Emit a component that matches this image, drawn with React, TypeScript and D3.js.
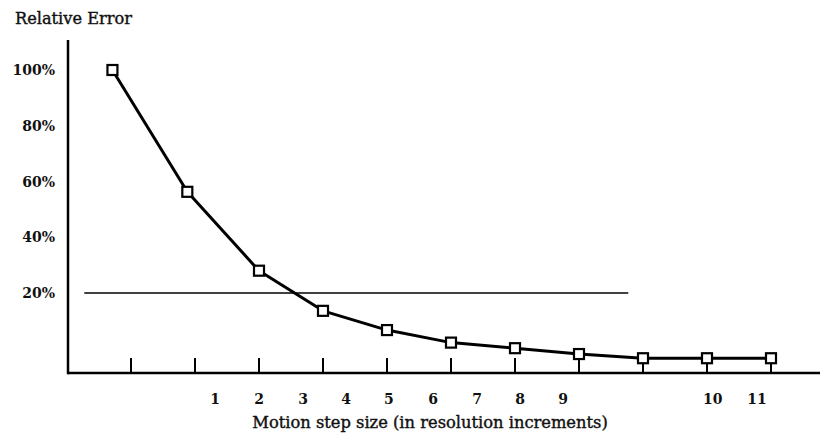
import React from "react";
import * as d3 from "d3";

// x positions are in "tick index" units along the axis (ticks at 0..10)
const pointPositions = [-0.29, 0.88, 2, 3, 4, 5, 6, 7, 8, 9, 10];
const relativeError = [100, 56.3, 28.0, 13.6, 6.7, 2.2, 0.2, -1.9, -3.4, -3.4, -3.4];
const tickPositions = [0, 1, 2, 3, 4, 5, 6, 7, 8, 9, 10];
const xLabels = ["1", "2", "3", "4", "5", "6", "7", "8", "9", "10", "11"];
const xLabelPositions = [1.3125, 2, 2.6875, 3.36, 4.03, 4.72, 5.41, 6.08, 6.75, 9.09, 9.78];
const yTicks = [100, 80, 60, 40, 20];
const referenceLevel = 20;
const referenceSpan = [-0.73, 7.77];

const W = 820;
const H = 439;
const FONT = "'DejaVu Serif', serif";

export default function App() {
  const x = d3.scaleLinear().domain([0, 10]).range([131, 771]);
  const y = d3.scaleLinear().domain([-8.7, 110.76]).range([373, 40]);

  const line = d3
    .line<number>()
    .x((_, i) => x(pointPositions[i]))
    .y((d) => y(d));

  const axisLeft = 68;
  const axisBottom = y(-8.7);

  return (
    <svg
      width={W}
      height={H}
      style={{ position: "absolute", left: 0, top: 0, background: "#fff" }}
    >
      <text x={15} y={24} fontFamily={FONT} fontSize={16.2} fill="#111" stroke="#111" strokeWidth={0.4}>
        Relative Error
      </text>

      {/* y axis */}
      <line x1={axisLeft} x2={axisLeft} y1={40} y2={axisBottom + 1.2} stroke="#000" strokeWidth={2.5} />
      {/* x axis */}
      <line x1={axisLeft} x2={820} y1={axisBottom} y2={axisBottom} stroke="#000" strokeWidth={2.5} />

      {yTicks.map((t) => (
        <text
          key={t}
          x={55}
          y={y(t)}
          dy="0.36em"
          textAnchor="end"
          fontFamily={FONT}
          fontWeight="bold"
          fontSize={14}
          fill="#111"
        >
          {t}%
        </text>
      ))}

      {tickPositions.map((t) => (
        <line key={t} x1={x(t)} x2={x(t)} y1={axisBottom - 15} y2={axisBottom} stroke="#000" strokeWidth={2} />
      ))}

      {xLabels.map((l, i) => (
        <text
          key={l}
          x={x(xLabelPositions[i])}
          y={404}
          textAnchor="middle"
          fontFamily={FONT}
          fontWeight="bold"
          fontSize={14}
          fill="#111"
        >
          {l}
        </text>
      ))}

      <text
        x={430}
        y={428}
        textAnchor="middle"
        fontFamily={FONT}
        fontSize={16.3}
        fill="#111"
        stroke="#111"
        strokeWidth={0.4}
      >
        Motion step size (in resolution increments)
      </text>

      {/* reference line */}
      <line
        x1={x(referenceSpan[0])}
        x2={x(referenceSpan[1])}
        y1={y(referenceLevel)}
        y2={y(referenceLevel)}
        stroke="#000"
        strokeWidth={1.3}
      />

      <path d={line(relativeError) || ""} fill="none" stroke="#000" strokeWidth={3} strokeLinejoin="round" />

      {relativeError.map((v, i) => (
        <rect
          key={i}
          x={x(pointPositions[i]) - 5}
          y={y(v) - 5}
          width={10}
          height={10}
          fill="#fff"
          stroke="#000"
          strokeWidth={2.2}
        />
      ))}
    </svg>
  );
}
